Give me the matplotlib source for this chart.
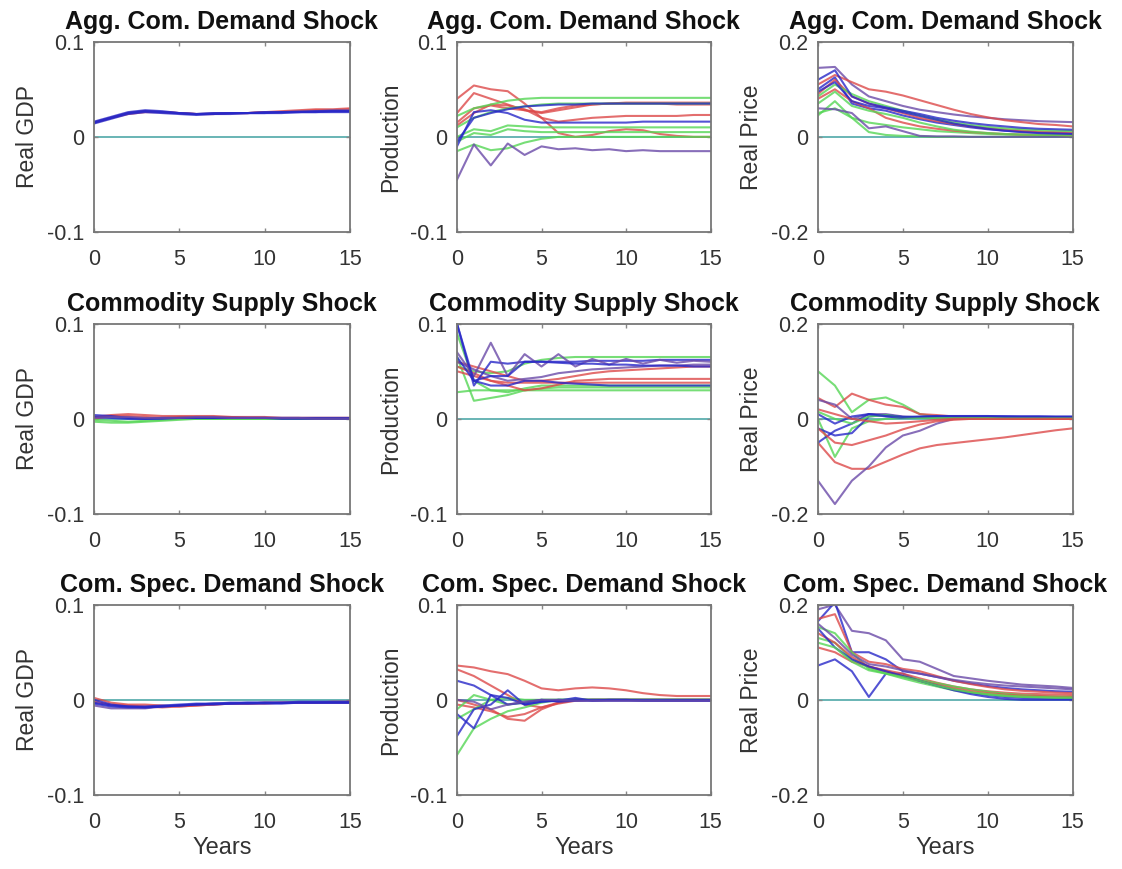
import numpy as np
import matplotlib
matplotlib.use("Agg")
import matplotlib.pyplot as plt

plt.rcParams["font.family"] = ["Liberation Sans", "DejaVu Sans"]

years = np.arange(16)

# colour codes for the lines: r=red, g=green, b=blue, p=purple
RED, GREEN, BLUE, PURPLE = "#dd4a4a", "#55d655", "#2828c8", "#6a4aa8"

# --- Agg. Com. Demand Shock ---
gdp_agg = [
    [0.015, 0.020, 0.025, 0.027, 0.026, 0.025, 0.024, 0.024, 0.025, 0.025, 0.026, 0.027, 0.028, 0.029, 0.029, 0.030],
    [0.015, 0.020, 0.024, 0.026, 0.026, 0.025, 0.024, 0.024, 0.025, 0.025, 0.026, 0.026, 0.027, 0.028, 0.028, 0.029],
    [0.015, 0.020, 0.025, 0.027, 0.026, 0.025, 0.024, 0.025, 0.025, 0.025, 0.026, 0.026, 0.027, 0.027, 0.028, 0.028],
    [0.015, 0.020, 0.025, 0.027, 0.026, 0.025, 0.024, 0.024, 0.025, 0.025, 0.025, 0.026, 0.026, 0.027, 0.027, 0.027],
    [0.014, 0.019, 0.024, 0.026, 0.025, 0.024, 0.023, 0.024, 0.024, 0.025, 0.025, 0.025, 0.026, 0.026, 0.026, 0.026],
    [0.016, 0.021, 0.026, 0.028, 0.027, 0.025, 0.024, 0.025, 0.025, 0.025, 0.026, 0.026, 0.026, 0.026, 0.027, 0.027],
]
gdp_agg_c = "rrpbbb"

prod_agg = [
    [0.040, 0.054, 0.050, 0.048, 0.035, 0.020, 0.004, 0.000, 0.002, 0.006, 0.008, 0.007, 0.003, 0.001, 0.000, 0.000],
    [0.025, 0.046, 0.040, 0.034, 0.028, 0.025, 0.028, 0.031, 0.034, 0.035, 0.036, 0.036, 0.036, 0.036, 0.036, 0.036],
    [0.012, 0.025, 0.034, 0.033, 0.029, 0.020, 0.016, 0.018, 0.020, 0.021, 0.022, 0.022, 0.022, 0.022, 0.023, 0.023],
    [0.015, 0.030, 0.033, 0.030, 0.028, 0.026, 0.030, 0.033, 0.034, 0.035, 0.035, 0.035, 0.035, 0.034, 0.034, 0.034],
    [0.022, 0.030, 0.034, 0.038, 0.040, 0.041, 0.041, 0.041, 0.041, 0.041, 0.041, 0.041, 0.041, 0.041, 0.041, 0.041],
    [0.010, 0.020, 0.026, 0.030, 0.032, 0.034, 0.035, 0.035, 0.035, 0.035, 0.035, 0.035, 0.035, 0.035, 0.035, 0.035],
    [0.000, 0.008, 0.006, 0.012, 0.011, 0.010, 0.010, 0.010, 0.010, 0.010, 0.010, 0.010, 0.010, 0.010, 0.010, 0.010],
    [-0.015, -0.008, -0.014, -0.012, -0.006, -0.002, 0.000, 0.000, 0.000, 0.000, 0.000, 0.000, 0.000, 0.000, 0.000, 0.000],
    [-0.005, 0.004, 0.002, 0.008, 0.006, 0.005, 0.005, 0.005, 0.005, 0.005, 0.005, 0.005, 0.005, 0.005, 0.005, 0.005],
    [-0.010, 0.026, 0.028, 0.025, 0.018, 0.015, 0.015, 0.015, 0.015, 0.015, 0.015, 0.016, 0.016, 0.016, 0.016, 0.016],
    [-0.005, 0.020, 0.025, 0.029, 0.032, 0.033, 0.034, 0.034, 0.035, 0.035, 0.035, 0.035, 0.035, 0.035, 0.035, 0.035],
    [-0.045, -0.008, -0.030, -0.007, -0.019, -0.010, -0.013, -0.012, -0.014, -0.013, -0.015, -0.014, -0.015, -0.015, -0.015, -0.015],
]
prod_agg_c = "rrrrgggggbbp"

price_agg = [
    [0.145, 0.147, 0.110, 0.085, 0.075, 0.065, 0.057, 0.052, 0.047, 0.043, 0.040, 0.037, 0.035, 0.033, 0.032, 0.031],
    [0.110, 0.130, 0.115, 0.100, 0.095, 0.087, 0.077, 0.067, 0.057, 0.048, 0.041, 0.035, 0.031, 0.027, 0.025, 0.022],
    [0.100, 0.125, 0.070, 0.060, 0.055, 0.045, 0.037, 0.030, 0.025, 0.020, 0.016, 0.013, 0.011, 0.009, 0.008, 0.007],
    [0.050, 0.060, 0.040, 0.030, 0.025, 0.020, 0.016, 0.012, 0.010, 0.008, 0.006, 0.005, 0.004, 0.003, 0.003, 0.002],
    [0.045, 0.075, 0.040, 0.010, 0.004, 0.002, 0.001, 0.000, 0.000, 0.000, 0.000, 0.000, 0.000, 0.000, 0.000, 0.000],
    [0.060, 0.058, 0.050, 0.018, 0.022, 0.012, 0.002, 0.001, 0.001, 0.000, 0.000, 0.000, 0.000, 0.000, 0.000, 0.000],
    [0.090, 0.120, 0.085, 0.070, 0.060, 0.050, 0.040, 0.033, 0.027, 0.022, 0.018, 0.015, 0.013, 0.011, 0.010, 0.009],
    [0.085, 0.110, 0.090, 0.075, 0.065, 0.055, 0.045, 0.037, 0.030, 0.025, 0.021, 0.018, 0.016, 0.014, 0.013, 0.012],
    [0.120, 0.140, 0.085, 0.070, 0.062, 0.055, 0.048, 0.040, 0.034, 0.029, 0.025, 0.022, 0.019, 0.017, 0.016, 0.015],
    [0.080, 0.100, 0.075, 0.060, 0.040, 0.030, 0.022, 0.017, 0.013, 0.010, 0.008, 0.006, 0.005, 0.004, 0.004, 0.003],
    [0.070, 0.095, 0.065, 0.055, 0.048, 0.040, 0.030, 0.022, 0.015, 0.011, 0.008, 0.006, 0.005, 0.004, 0.004, 0.003],
    [0.095, 0.115, 0.075, 0.065, 0.060, 0.052, 0.044, 0.036, 0.028, 0.022, 0.017, 0.013, 0.010, 0.008, 0.007, 0.006],
]
price_agg_c = "prbggprgbrgb"

# --- Commodity Supply Shock ---
gdp_sup = [
    [0.002, 0.004, 0.005, 0.004, 0.003, 0.003, 0.003, 0.003, 0.002, 0.002, 0.002, 0.001, 0.001, 0.001, 0.001, 0.001],
    [0.000, 0.003, 0.003, 0.002, 0.001, 0.002, 0.002, 0.002, 0.002, 0.001, 0.001, 0.001, 0.001, 0.001, 0.001, 0.001],
    [-0.003, -0.004, -0.004, -0.003, -0.002, -0.001, 0.000, 0.000, 0.000, 0.000, 0.000, 0.000, 0.000, 0.000, 0.000, 0.000],
    [-0.001, -0.002, -0.003, -0.002, -0.001, 0.000, 0.000, 0.000, 0.000, 0.000, 0.000, 0.000, 0.000, 0.000, 0.000, 0.000],
    [0.004, 0.003, 0.001, 0.000, 0.001, 0.001, 0.001, 0.001, 0.001, 0.001, 0.001, 0.001, 0.001, 0.001, 0.001, 0.001],
    [0.002, 0.001, 0.000, 0.000, 0.000, 0.001, 0.001, 0.001, 0.001, 0.001, 0.001, 0.000, 0.000, 0.000, 0.000, 0.000],
    [0.001, 0.002, 0.002, 0.001, 0.001, 0.001, 0.002, 0.002, 0.001, 0.001, 0.001, 0.001, 0.001, 0.000, 0.000, 0.000],
]
gdp_sup_c = "rrggbbp"

prod_sup = [
    [0.065, 0.019, 0.022, 0.025, 0.030, 0.032, 0.033, 0.033, 0.033, 0.033, 0.033, 0.033, 0.033, 0.033, 0.033, 0.033],
    [0.090, 0.040, 0.030, 0.028, 0.032, 0.035, 0.035, 0.035, 0.035, 0.035, 0.035, 0.035, 0.035, 0.035, 0.035, 0.035],
    [0.028, 0.030, 0.030, 0.030, 0.030, 0.030, 0.030, 0.030, 0.030, 0.030, 0.030, 0.030, 0.030, 0.030, 0.030, 0.030],
    [0.055, 0.050, 0.048, 0.050, 0.058, 0.062, 0.064, 0.065, 0.065, 0.065, 0.065, 0.065, 0.065, 0.065, 0.065, 0.065],
    [0.060, 0.055, 0.050, 0.045, 0.040, 0.040, 0.042, 0.045, 0.048, 0.050, 0.051, 0.052, 0.053, 0.054, 0.055, 0.055],
    [0.055, 0.048, 0.040, 0.035, 0.030, 0.032, 0.036, 0.040, 0.041, 0.042, 0.042, 0.042, 0.042, 0.042, 0.042, 0.042],
    [0.050, 0.045, 0.040, 0.038, 0.038, 0.038, 0.038, 0.038, 0.038, 0.038, 0.038, 0.038, 0.038, 0.038, 0.038, 0.038],
    [0.060, 0.052, 0.045, 0.040, 0.042, 0.044, 0.048, 0.050, 0.052, 0.053, 0.054, 0.055, 0.056, 0.056, 0.057, 0.057],
    [0.100, 0.035, 0.060, 0.058, 0.060, 0.060, 0.060, 0.060, 0.061, 0.061, 0.061, 0.061, 0.062, 0.062, 0.062, 0.062],
    [0.070, 0.045, 0.080, 0.045, 0.068, 0.055, 0.068, 0.055, 0.063, 0.057, 0.063, 0.058, 0.062, 0.059, 0.061, 0.060],
    [0.100, 0.040, 0.045, 0.045, 0.060, 0.060, 0.059, 0.058, 0.058, 0.057, 0.057, 0.056, 0.056, 0.056, 0.055, 0.055],
    [0.065, 0.040, 0.035, 0.035, 0.040, 0.040, 0.038, 0.037, 0.036, 0.035, 0.035, 0.035, 0.035, 0.035, 0.035, 0.035],
]
prod_sup_c = "ggggrrrpbpbb"

price_sup = [
    [0.100, 0.070, 0.014, 0.040, 0.045, 0.030, 0.010, 0.005, 0.002, 0.001, 0.001, 0.000, 0.000, 0.000, 0.000, 0.000],
    [0.044, 0.025, 0.053, 0.040, 0.030, 0.025, 0.010, 0.008, 0.005, 0.004, 0.003, 0.002, 0.001, 0.001, 0.000, 0.000],
    [-0.050, -0.091, -0.105, -0.105, -0.090, -0.075, -0.062, -0.055, -0.051, -0.047, -0.043, -0.039, -0.034, -0.029, -0.024, -0.020],
    [-0.130, -0.179, -0.130, -0.100, -0.060, -0.035, -0.025, -0.010, 0.000, 0.002, 0.003, 0.003, 0.003, 0.003, 0.003, 0.003],
    [0.000, -0.080, -0.020, -0.005, 0.000, 0.002, 0.003, 0.003, 0.003, 0.003, 0.002, 0.002, 0.002, 0.002, 0.002, 0.002],
    [0.040, 0.030, 0.000, 0.010, 0.010, 0.005, 0.003, 0.003, 0.003, 0.003, 0.003, 0.002, 0.002, 0.002, 0.002, 0.002],
    [-0.050, -0.025, -0.010, 0.010, 0.005, 0.002, 0.004, 0.005, 0.005, 0.005, 0.005, 0.005, 0.004, 0.004, 0.004, 0.004],
    [-0.020, -0.035, -0.030, 0.005, 0.008, 0.004, 0.003, 0.004, 0.005, 0.005, 0.005, 0.005, 0.005, 0.005, 0.004, 0.004],
    [-0.020, -0.050, -0.055, -0.045, -0.035, -0.022, -0.012, -0.005, -0.002, 0.000, 0.000, 0.000, 0.000, 0.000, 0.000, 0.000],
    [0.015, 0.000, -0.010, 0.005, 0.008, 0.003, 0.002, 0.002, 0.002, 0.002, 0.002, 0.002, 0.002, 0.002, 0.002, 0.002],
    [0.010, -0.010, 0.005, 0.010, 0.006, 0.004, 0.005, 0.006, 0.006, 0.006, 0.006, 0.005, 0.005, 0.005, 0.005, 0.005],
    [0.020, 0.010, 0.000, -0.005, -0.010, -0.008, -0.005, -0.002, 0.000, 0.000, 0.000, 0.000, 0.000, 0.000, 0.000, 0.000],
]
price_sup_c = "grrpgpbbrgbr"

# --- Com. Spec. Demand Shock ---
gdp_spec = [
    [0.002, -0.003, -0.005, -0.005, -0.006, -0.007, -0.006, -0.005, -0.004, -0.004, -0.003, -0.003, -0.003, -0.003, -0.002, -0.002],
    [-0.002, -0.005, -0.006, -0.007, -0.008, -0.007, -0.006, -0.005, -0.004, -0.004, -0.004, -0.003, -0.003, -0.003, -0.003, -0.003],
    [-0.006, -0.009, -0.009, -0.009, -0.007, -0.006, -0.005, -0.004, -0.004, -0.004, -0.003, -0.003, -0.003, -0.003, -0.003, -0.003],
    [0.000, -0.005, -0.007, -0.008, -0.007, -0.006, -0.005, -0.005, -0.004, -0.004, -0.004, -0.004, -0.003, -0.003, -0.003, -0.003],
    [-0.004, -0.007, -0.008, -0.008, -0.007, -0.006, -0.005, -0.004, -0.004, -0.003, -0.003, -0.003, -0.003, -0.003, -0.003, -0.003],
    [-0.003, -0.006, -0.007, -0.007, -0.006, -0.005, -0.004, -0.004, -0.003, -0.003, -0.003, -0.003, -0.002, -0.002, -0.002, -0.002],
]
gdp_spec_c = "rrpbbb"

prod_spec = [
    [0.036, 0.034, 0.030, 0.027, 0.020, 0.012, 0.010, 0.012, 0.013, 0.012, 0.010, 0.007, 0.005, 0.004, 0.004, 0.004],
    [0.032, 0.025, 0.015, 0.005, -0.005, -0.008, -0.004, -0.001, 0.000, 0.000, 0.000, 0.000, 0.000, 0.000, 0.000, 0.000],
    [0.000, -0.005, -0.010, -0.020, -0.022, -0.010, -0.003, 0.000, 0.000, 0.000, 0.000, 0.000, 0.000, 0.000, 0.000, 0.000],
    [-0.005, -0.008, -0.012, -0.018, -0.015, -0.008, -0.003, 0.000, 0.000, 0.000, 0.000, 0.000, 0.000, 0.000, 0.000, 0.000],
    [-0.058, -0.030, -0.020, -0.012, -0.008, -0.003, 0.000, 0.000, 0.000, 0.000, 0.000, 0.000, 0.000, 0.000, 0.000, 0.000],
    [-0.010, 0.005, 0.000, -0.005, -0.003, 0.000, 0.000, 0.000, 0.000, 0.000, 0.000, 0.000, 0.000, 0.000, 0.000, 0.000],
    [-0.020, -0.010, 0.000, 0.002, 0.000, 0.000, 0.000, 0.000, 0.000, 0.000, 0.000, 0.000, 0.000, 0.000, 0.000, 0.000],
    [-0.038, -0.010, -0.005, 0.010, -0.005, -0.002, -0.001, 0.002, -0.001, 0.000, 0.000, -0.001, -0.001, -0.001, -0.001, -0.001],
    [-0.015, -0.030, 0.005, -0.005, -0.003, 0.000, -0.002, -0.001, -0.001, -0.001, -0.001, -0.001, -0.001, -0.001, -0.001, -0.001],
    [0.020, 0.015, 0.005, 0.002, -0.005, -0.002, 0.000, 0.000, 0.000, 0.000, 0.000, 0.000, 0.000, 0.000, 0.000, 0.000],
    [0.000, -0.002, -0.010, -0.005, -0.002, 0.000, 0.000, -0.001, -0.001, -0.001, -0.001, -0.001, -0.001, -0.001, -0.001, -0.001],
]
prod_spec_c = "rrrrgggbbbp"

price_spec = [
    [0.190, 0.200, 0.145, 0.140, 0.125, 0.085, 0.080, 0.065, 0.050, 0.045, 0.040, 0.036, 0.032, 0.030, 0.028, 0.025],
    [0.165, 0.205, 0.100, 0.100, 0.085, 0.060, 0.055, 0.048, 0.040, 0.034, 0.029, 0.025, 0.022, 0.020, 0.018, 0.017],
    [0.072, 0.085, 0.060, 0.006, 0.055, 0.055, 0.040, 0.030, 0.022, 0.015, 0.010, 0.006, 0.004, 0.003, 0.002, 0.002],
    [0.170, 0.180, 0.100, 0.080, 0.075, 0.065, 0.060, 0.050, 0.040, 0.033, 0.027, 0.022, 0.019, 0.017, 0.015, 0.014],
    [0.110, 0.100, 0.080, 0.070, 0.062, 0.055, 0.045, 0.036, 0.028, 0.022, 0.018, 0.015, 0.013, 0.012, 0.011, 0.010],
    [0.153, 0.140, 0.100, 0.065, 0.055, 0.045, 0.036, 0.028, 0.020, 0.015, 0.011, 0.008, 0.006, 0.005, 0.004, 0.004],
    [0.130, 0.120, 0.085, 0.068, 0.058, 0.050, 0.042, 0.035, 0.028, 0.022, 0.017, 0.013, 0.010, 0.008, 0.007, 0.006],
    [0.140, 0.120, 0.090, 0.070, 0.060, 0.050, 0.040, 0.032, 0.024, 0.018, 0.014, 0.011, 0.009, 0.008, 0.007, 0.006],
    [0.150, 0.110, 0.085, 0.070, 0.060, 0.050, 0.040, 0.030, 0.020, 0.012, 0.006, 0.002, 0.000, 0.000, 0.000, 0.000],
    [0.160, 0.130, 0.095, 0.075, 0.070, 0.062, 0.055, 0.048, 0.042, 0.037, 0.033, 0.030, 0.028, 0.026, 0.024, 0.022],
    [0.120, 0.110, 0.080, 0.062, 0.055, 0.048, 0.040, 0.030, 0.022, 0.016, 0.012, 0.009, 0.007, 0.006, 0.005, 0.005],
]
price_spec_c = "pbbrrggrbpg"

titles = ["Agg. Com. Demand Shock", "Commodity Supply Shock", "Com. Spec. Demand Shock"]
ylabels = ["Real GDP", "Production", "Real Price"]
ylims = [0.1, 0.1, 0.2]

panels = [
    [(gdp_agg, gdp_agg_c), (prod_agg, prod_agg_c), (price_agg, price_agg_c)],
    [(gdp_sup, gdp_sup_c), (prod_sup, prod_sup_c), (price_sup, price_sup_c)],
    [(gdp_spec, gdp_spec_c), (prod_spec, prod_spec_c), (price_spec, price_spec_c)],
]

colmap = {"r": RED, "g": GREEN, "b": BLUE, "p": PURPLE}

fig = plt.figure(figsize=(11.22, 8.69), dpi=100)

lefts = [0.0838, 0.4073, 0.729]
widths = [0.228, 0.226, 0.227]
bottoms = [0.733, 0.4085, 0.0852]
height = 0.219

for i in range(3):
    for j in range(3):
        ax = fig.add_axes([lefts[j], bottoms[i], widths[j], height])
        series, codes = panels[i][j]
        for s, c in zip(series, codes):
            ax.plot(years, s, color=colmap[c], lw=1.5, alpha=0.8)
        ax.axhline(0, color="#4fa8a8", lw=1.2, zorder=1)
        lim = ylims[j]
        ax.set_xlim(0, 15)
        ax.set_ylim(-lim, lim)
        ax.set_xticks([0, 5, 10, 15])
        ax.set_yticks([-lim, 0, lim])
        ax.set_yticklabels([f"-{lim:g}", "0", f"{lim:g}"])
        ax.tick_params(direction="in", top=True, right=True, length=3,
                       width=1, colors="#888888", labelcolor="#333333",
                       labelsize=15.5)
        ax.tick_params(axis="x", pad=12)
        ax.tick_params(axis="y", pad=7)
        for sp in ax.spines.values():
            sp.set_color("#777777")
            sp.set_linewidth(1.3)
        ax.set_title(titles[i], fontsize=18, fontweight="bold", color="#111111", pad=9)
        ax.set_ylabel(ylabels[j], fontsize=16.5, color="#333333", labelpad=6)
        if i == 2:
            ax.set_xlabel("Years", fontsize=17, color="#333333", labelpad=3)

fig.savefig("out.png", dpi=100)
